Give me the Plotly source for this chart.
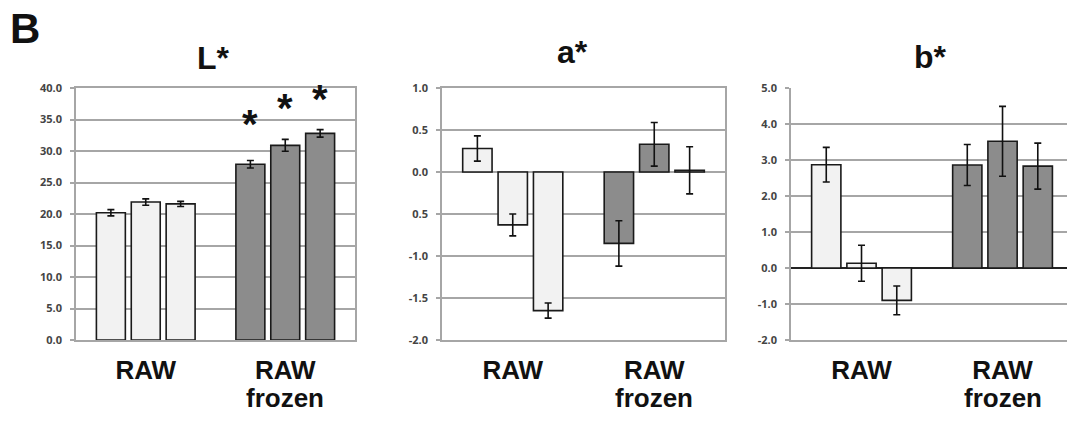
import plotly.graph_objects as go

W, H = 1067, 421

categories = ["RAW", "RAW frozen"]
cat_line1 = ["RAW", "RAW"]
cat_line2 = ["", "frozen"]

# values: [bar position 1..3][category]
L_vals = [[20.2, 27.9], [21.9, 30.9], [21.6, 32.8]]
L_err = [[0.5, 0.6], [0.5, 0.95], [0.4, 0.6]]
a_vals = [[0.28, -0.85], [-0.63, 0.33], [-1.65, 0.02]]
a_err = [[0.15, 0.27], [0.13, 0.26], [0.09, 0.28]]
b_vals = [[2.87, 2.86], [0.13, 3.52], [-0.9, 2.83]]
b_err = [[0.48, 0.57], [0.5, 0.97], [0.4, 0.64]]

L_ticks = [0, 5, 10, 15, 20, 25, 30, 35, 40]
L_ticktext = ["0.0", "5.0", "10.0", "15.0", "20.0", "25.0", "30.0", "35.0", "40.0"]
a_ticks = [-2.0, -1.5, -1.0, -0.5, 0.0, 0.5, 1.0]
a_ticktext = ["-2.0", "-1.5", "-1.0", "0.5", "0.0", "0.5", "1.0"]
b_ticks = [-2, -1, 0, 1, 2, 3, 4, 5]
b_ticktext = ["-2.0", "-1.0", "0.0", "1.0", "2.0", "3.0", "4.0", "5.0"]

star_y = [34.3, 36.9, 38.2]

panel_titles = ["L*", "a*", "b*"]

light = "#f2f2f2"
dark = "#8c8c8c"
grid = "#a6a6a6"
colors = [light, dark]

BARGAP = 0.25
GROUPGAP = 0.17

def px(x):
    return x / W

def py(y):
    return 1 - y / H

fig = go.Figure()

panels = [
    (L_vals, L_err, "x", "y"),
    (a_vals, a_err, "x2", "y2"),
    (b_vals, b_err, "x3", "y3"),
]
for vals, errs, xa, ya in panels:
    for i in range(3):
        fig.add_trace(go.Bar(
            x=categories, y=vals[i],
            marker=dict(color=colors, line=dict(color="#1a1a1a", width=1.6)),
            error_y=dict(type="data", array=errs[i], visible=True,
                         color="#111111", thickness=1.6, width=3.5),
            xaxis=xa, yaxis=ya, showlegend=False, offsetgroup=str(i),
        ))

tickfont = dict(family="Open Sans, DejaVu Sans", size=11, color="#444444", weight="bold")
catfont = dict(family="Liberation Sans, Arial", size=26, color="#111111", weight="bold")

ydom = [py(340), py(88)]
xdoms = [[px(76), px(355)], [px(442), px(725)], [px(791), 1.0]]
xranges = [[-0.5, 1.5], [-0.5, 1.5], [-0.5, 1.5 - 6 / 140]]
yranges = [[0, 40], [-2, 1], [-2, 5]]
ytv = [(L_ticks, L_ticktext), (a_ticks, a_ticktext), (b_ticks, b_ticktext)]

layout = dict(
    template="none",
    width=W, height=H, margin=dict(l=0, r=0, t=0, b=0),
    paper_bgcolor="white", plot_bgcolor="white",
    barmode="group", bargap=BARGAP, bargroupgap=GROUPGAP,
)
for k in range(3):
    sx = "" if k == 0 else str(k + 1)
    mirror = k < 2
    layout["xaxis" + sx] = dict(
        domain=xdoms[k], range=xranges[k], type="category", automargin=False,
        anchor="y" + sx, showgrid=False, zeroline=False,
        showline=True, linecolor=grid, linewidth=1.5, mirror=mirror,
        tickmode="array", tickvals=categories, ticktext=cat_line1,
        tickfont=catfont, ticks="", ticklabelstandoff=6,
    )
    layout["yaxis" + sx] = dict(
        domain=ydom, range=yranges[k], anchor="x" + sx, automargin=False,
        tickmode="array", tickvals=ytv[k][0], ticktext=ytv[k][1],
        tickfont=tickfont, showgrid=True, gridcolor=grid, gridwidth=1.5,
        showline=True, linecolor=grid, linewidth=1.5, mirror=mirror,
        ticks="outside", ticklen=4, tickcolor=grid, tickwidth=1.5,
        zeroline=(k == 2), zerolinecolor="#222222", zerolinewidth=2,
        ticklabelstandoff=6,
    )
fig.update_layout(**layout)

annotations = []
# panel titles
title_x = [213, 572, 930]
title_y = [58, 52, 57]
for k in range(3):
    annotations.append(dict(
        text=panel_titles[k], xref="paper", yref="paper",
        x=px(title_x[k]), y=py(title_y[k]), showarrow=False,
        xanchor="center", yanchor="middle",
        font=dict(family="Liberation Sans, Arial", size=32, color="#111111", weight="bold"),
    ))
# panel letter
annotations.append(dict(
    text="B", xref="paper", yref="paper", x=px(8), y=py(28), showarrow=False,
    xanchor="left", yanchor="middle",
    font=dict(family="Liberation Sans, Arial", size=42, color="#111111", weight="bold"),
))
# second line of category labels
for k in range(3):
    sx = "x" if k == 0 else "x" + str(k + 1)
    for c in range(2):
        if cat_line2[c]:
            annotations.append(dict(
                text=cat_line2[c], xref=sx, yref="paper", x=categories[c], y=py(398),
                showarrow=False, xanchor="center", yanchor="middle", font=catfont,
            ))
# significance stars above frozen bars of L*
slot = (1 - BARGAP) / 3
for i in range(3):
    annotations.append(dict(
        text="*", xref="x", yref="y", x=1 + (i - 1) * slot, y=star_y[i],
        showarrow=False, xanchor="center", yanchor="middle",
        font=dict(family="Liberation Sans, Arial", size=40, color="#111111", weight="bold"),
    ))
fig.update_layout(annotations=annotations)

fig.write_html("out.html")
